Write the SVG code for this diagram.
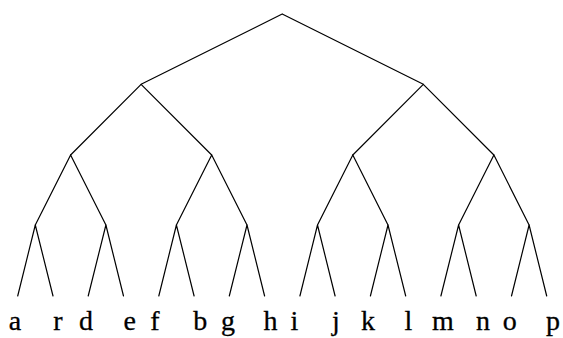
<svg xmlns="http://www.w3.org/2000/svg" width="563" height="338" viewBox="0 0 563 338">
<style>
.e{stroke:#000;stroke-width:1.2;fill:none;stroke-linecap:round}
</style>
<rect width="563" height="338" fill="#fff"/>
<g id="connectors" class="e">
<path d="M282.2,14L141.1,84.3M282.2,14L423.3,84.3"/>
<path d="M141.1,84.3L70.6,155M141.1,84.3L211.7,155M423.3,84.3L352.8,155M423.3,84.3L493.9,155"/>
<path d="M70.6,155L35.3,225M70.6,155L105.9,225M211.7,155L176.4,225M211.7,155L247,225M352.8,155L317.5,225M352.8,155L388,225M493.9,155L458.6,225M493.9,155L529.1,225"/>
<path d="M35.3,225L17.7,296M35.3,225L53,296M105.9,225L88.2,296M105.9,225L123.5,296M176.4,225L158.8,296M176.4,225L194.1,296M247,225L229.3,296M247,225L264.6,296M317.5,225L299.9,296M317.5,225L335.1,296M388,225L370.4,296M388,225L405.7,296M458.6,225L440.9,296M458.6,225L476.2,296M529.1,225L511.5,296M529.1,225L546.7,296"/>
</g>
<g font-family="Liberation Serif, Times New Roman, serif" font-size="28" text-anchor="middle" fill="#000" stroke="#000" stroke-width="0.3">
<g id="leaf-a"><text x="15" y="330">a</text></g>
<g id="leaf-r"><text x="58" y="330">r</text></g>
<g id="leaf-d"><text x="86" y="330">d</text></g>
<g id="leaf-e"><text x="129.6" y="330">e</text></g>
<g id="leaf-f"><text x="155" y="330">f</text></g>
<g id="leaf-b"><text x="200.3" y="330">b</text></g>
<g id="leaf-g"><text x="228" y="330">g</text></g>
<g id="leaf-h"><text x="270.6" y="330">h</text></g>
<g id="leaf-i"><text x="294.5" y="330">i</text></g>
<g id="leaf-j"><text x="336" y="330">j</text></g>
<g id="leaf-k"><text x="368" y="330">k</text></g>
<g id="leaf-l"><text x="408.3" y="330">l</text></g>
<g id="leaf-m"><text x="443" y="330">m</text></g>
<g id="leaf-n"><text x="483" y="330">n</text></g>
<g id="leaf-o"><text x="509.7" y="330">o</text></g>
<g id="leaf-p"><text x="553" y="330">p</text></g>
</g>
</svg>
